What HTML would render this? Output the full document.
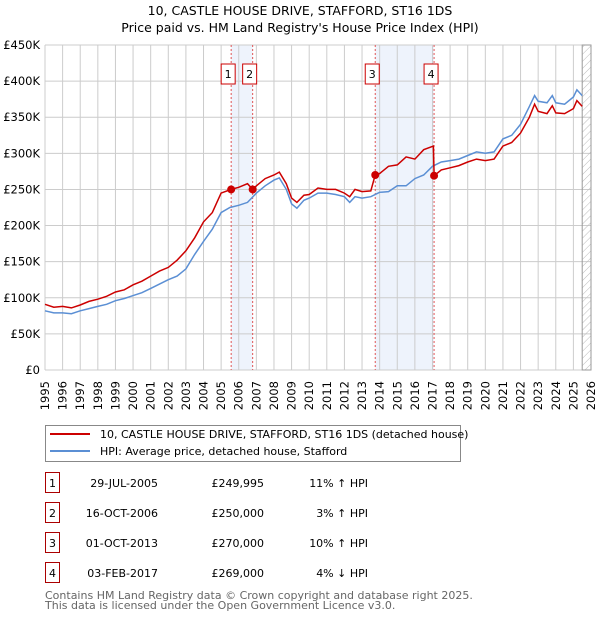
<!DOCTYPE html>
<html><head><meta charset="utf-8"><style>
body{margin:0;background:#fff;font-family:"Liberation Sans","DejaVu Sans",sans-serif}
svg text{font-family:"DejaVu Sans","Liberation Sans",sans-serif}
</style></head><body>
<svg width="600" height="620" xmlns="http://www.w3.org/2000/svg">
<defs><pattern id="hatch" width="5" height="5" patternUnits="userSpaceOnUse" patternTransform="rotate(45)"><line x1="0" y1="0" x2="0" y2="5" stroke="#bbb" stroke-width="1"/></pattern></defs>
<text x="300" y="15" text-anchor="middle" font-size="12.5">10, CASTLE HOUSE DRIVE, STAFFORD, ST16 1DS</text>
<text x="300" y="32" text-anchor="middle" font-size="12.5">Price paid vs. HM Land Registry's House Price Index (HPI)</text>
<g id="plot"></g>
<g>
<rect x="45.5" y="425.5" width="415" height="36" fill="#fff" stroke="#888"/>
<line x1="50" y1="434" x2="90" y2="434" stroke="#cc0000" stroke-width="2"/>
<text x="100" y="438" font-size="11">10, CASTLE HOUSE DRIVE, STAFFORD, ST16 1DS (detached house)</text>
<line x1="50" y1="451" x2="90" y2="451" stroke="#5b8fd4" stroke-width="2"/>
<text x="100" y="455" font-size="11">HPI: Average price, detached house, Stafford</text>
</g>
<g id="table" font-size="11"></g>
<text x="45" y="599" font-size="11" fill="#666">Contains HM Land Registry data © Crown copyright and database right 2025.</text>
<text x="45" y="609" font-size="11" fill="#666">This data is licensed under the Open Government Licence v3.0.</text>
</svg>
<script>
const hpiT=[1995,1995.5,1996,1996.5,1997,1997.5,1998,1998.5,1999,1999.5,2000,2000.5,2001,2001.5,2002,2002.5,2003,2003.5,2004,2004.5,2005,2005.5,2006,2006.5,2007,2007.5,2008,2008.3,2008.7,2009,2009.3,2009.7,2010,2010.5,2011,2011.5,2012,2012.3,2012.6,2013,2013.5,2014,2014.5,2015,2015.5,2016,2016.5,2017,2017.5,2018,2018.5,2019,2019.5,2020,2020.5,2021,2021.5,2022,2022.5,2022.8,2023,2023.5,2023.8,2024,2024.5,2025,2025.2,2025.5];
const hpiV=[82,79,79,78,82,85,88,91,96,99,103,107,113,119,125,130,140,160,178,195,218,225,228,232,245,255,263,266,250,230,224,235,238,245,245,243,240,232,240,238,240,246,247,255,255,265,270,282,288,290,292,297,302,300,302,320,325,340,365,380,372,370,380,370,368,378,388,380];
const redT=[1995,1995.5,1996,1996.5,1997,1997.5,1998,1998.5,1999,1999.5,2000,2000.5,2001,2001.5,2002,2002.5,2003,2003.5,2004,2004.5,2005,2005.57,2006,2006.5,2006.79,2007,2007.5,2008,2008.3,2008.7,2009,2009.3,2009.7,2010,2010.5,2011,2011.5,2012,2012.3,2012.6,2013,2013.5,2013.75,2014,2014.5,2015,2015.5,2016,2016.5,2017.05,2017.09,2017.5,2018,2018.5,2019,2019.5,2020,2020.5,2021,2021.5,2022,2022.5,2022.8,2023,2023.5,2023.8,2024,2024.5,2025,2025.2,2025.5];
const redV=[91,87,88,86,90,95,98,102,108,111,118,123,130,137,142,152,165,183,205,218,245,250,253,258,250,255,265,270,274,258,238,232,242,243,252,250,250,245,240,250,247,248,270,272,282,284,295,292,305,310,269,277,280,283,288,292,290,292,310,315,328,350,368,358,355,366,356,355,362,373,365];
const salesT=[2005.57,2006.79,2013.75,2017.09];
const salesV=[249.995,250,270,269];
const salesLabel=["1","2","3","4"];
const salesDate=["29-JUL-2005","16-OCT-2006","01-OCT-2013","03-FEB-2017"];
const salesPrice=["£249,995","£250,000","£270,000","£269,000"];
const salesHpi=["11% ↑ HPI","3% ↑ HPI","10% ↑ HPI","4% ↓ HPI"];
const yTicks=[0,50,100,150,200,250,300,350,400,450];
const yTickLabels=["£0","£50K","£100K","£150K","£200K","£250K","£300K","£350K","£400K","£450K"];
const xYears=[];for(let y=1995;y<=2026;y++)xYears.push(y);
const X0=45,X1=591,Y0=370,Y1=45;
const xs=t=>X0+(t-1995)/31*(X1-X0);
const ys=v=>Y0-v/450*(Y0-Y1);
const NS='http://www.w3.org/2000/svg';
const plot=document.getElementById('plot');
function mk(tag,a,p){const e=document.createElementNS(NS,tag);for(const k in a)e.setAttribute(k,a[k]);(p||plot).appendChild(e);return e;}
let e;
e=mk('rect',{x:X0,y:Y1,width:X1-X0,height:Y0-Y1,fill:'#fff'});


[[0,1],[2,3]].forEach(p=>{e=mk('rect',{x:xs(salesT[p[0]]),y:Y1,width:xs(salesT[p[1]])-xs(salesT[p[0]]),height:Y0-Y1,fill:'#eef3fc'});

});
xYears.forEach(y=>{e=mk('line',{x1:xs(y),x2:xs(y),y1:Y1,y2:Y0,stroke:'#ccc'});


const tx=xs(y)+4;
e=mk('text',{x:0,y:0,'text-anchor':'end','font-size':'11.5',transform:'translate('+tx+',381) rotate(-90)'});e.textContent=y;

});
yTicks.forEach((v,i)=>{e=mk('line',{x1:X0,x2:X1,y1:ys(v),y2:ys(v),stroke:'#ccc'});


e=mk('text',{x:X0-5,y:ys(v)+4,'text-anchor':'end','font-size':'11.5'});e.textContent=yTickLabels[i];

});
e=mk('rect',{x:xs(2025.5),y:Y1,width:X1-xs(2025.5),height:Y0-Y1,fill:'url(#hatch)',stroke:'#999'});


salesT.forEach((t,i)=>{e=mk('line',{x1:xs(t),x2:xs(t),y1:Y1,y2:Y0,stroke:'#e05555','stroke-dasharray':'2,2'});

});
function path(T,V){return T.map((t,i)=>(i?'L':'M')+xs(t).toFixed(1)+','+ys(V[i]).toFixed(1)).join('');}
e=mk('path',{d:path(hpiT,hpiV),fill:'none',stroke:'#5b8fd4','stroke-width':1.5});


e=mk('path',{d:path(redT,redV),fill:'none',stroke:'#cc0000','stroke-width':1.5});


salesT.forEach((t,i)=>{e=mk('circle',{cx:xs(t),cy:ys(salesV[i]),r:4,fill:'#cc0000'});


const lx=xs(t)-10;
e=mk('rect',{x:lx,y:64,width:14,height:20,fill:'#fff',stroke:'#cc0000'});


e=mk('text',{x:lx+7,y:78,'text-anchor':'middle','font-size':'11'});e.textContent=salesLabel[i];

});
const tb=document.getElementById('table');
salesT.forEach((t,i)=>{const y=483+i*30;
e=mk('rect',{x:45.5,y:y-10.5,width:14,height:20,fill:'#fff',stroke:'#aa0000'},tb);


e=mk('text',{x:52.5,y:y+4,'text-anchor':'middle'},tb);e.textContent=salesLabel[i];


e=mk('text',{x:158,y:y+4,'text-anchor':'end'},tb);e.textContent=salesDate[i];


e=mk('text',{x:264,y:y+4,'text-anchor':'end'},tb);e.textContent=salesPrice[i];


e=mk('text',{x:368,y:y+4,'text-anchor':'end'},tb);e.textContent=salesHpi[i];

});
</script>
</body></html>
